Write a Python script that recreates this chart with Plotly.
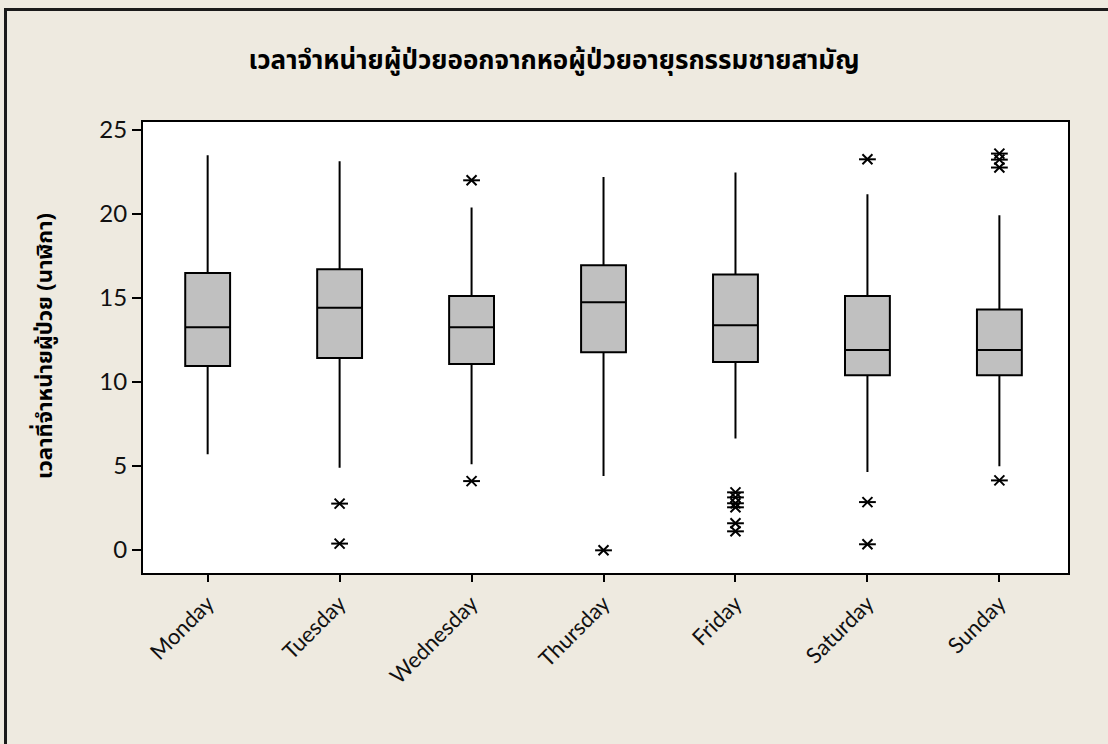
import plotly.graph_objects as go

# Discharge times (hour of day) by weekday: five-number summaries and outliers
days = ["Monday", "Tuesday", "Wednesday", "Thursday", "Friday", "Saturday", "Sunday"]
lower_whisker = [5.67, 4.88, 5.08, 4.38, 6.61, 4.62, 4.96]
q1_vals = [10.93, 11.41, 11.05, 11.74, 11.17, 10.38, 10.38]
median_vals = [13.23, 14.40, 13.23, 14.72, 13.35, 11.88, 11.88]
q3_vals = [16.46, 16.68, 15.10, 16.92, 16.37, 15.10, 14.29]
upper_whisker = [23.47, 23.11, 20.36, 22.18, 22.44, 21.15, 19.90]

outlier_days = ["Tuesday", "Tuesday",
                "Wednesday", "Wednesday",
                "Thursday",
                "Friday", "Friday", "Friday", "Friday", "Friday", "Friday",
                "Saturday", "Saturday", "Saturday",
                "Sunday", "Sunday", "Sunday", "Sunday"]
outlier_vals = [2.74, 0.36,
                21.98, 4.08,
                -0.04,
                3.41, 3.11, 2.76, 2.52, 1.57, 1.09,
                23.23, 2.83, 0.32,
                23.57, 23.21, 22.74, 4.12]

title_text = "เวลาจำหน่ายผู้ป่วยออกจากหอผู้ป่วยอายุรกรรมชายสามัญ"
y_title_text = "เวลาที่จำหน่ายผู้ป่วย (นาฬิกา)"
y_ticks = [0, 5, 10, 15, 20, 25]

BG = "#EEEAE0"
TICK_FONT = "Lato, 'Open Sans', sans-serif"
THAI_FONT = "'Noto Sans Thai', 'Noto Sans', sans-serif"

fig = go.Figure()

fig.add_trace(go.Box(
    x=days,
    q1=q1_vals,
    median=median_vals,
    q3=q3_vals,
    lowerfence=lower_whisker,
    upperfence=upper_whisker,
    boxpoints=False,
    width=0.34,
    whiskerwidth=0,
    fillcolor="#C0C0C0",
    line=dict(color="black", width=2),
    showlegend=False,
))

# Outlier asterisks: an X with a horizontal bar through it
fig.add_trace(go.Scatter(
    x=outlier_days, y=outlier_vals, mode="markers",
    marker=dict(symbol="x-thin-open", size=10, color="black",
                line=dict(color="black", width=2)),
    showlegend=False, hoverinfo="skip",
))
fig.add_trace(go.Scatter(
    x=outlier_days, y=outlier_vals, mode="markers",
    marker=dict(symbol="line-ew-open", size=12, color="black",
                line=dict(color="black", width=2)),
    showlegend=False, hoverinfo="y",
))

L, R, T, B = 143, 40, 122, 171
W, H = 1108, 744
pw, ph = W - L - R, H - T - B


def px_x(p):
    return (p - L) / pw


def px_y(p):
    return (H - B - p) / ph


fig.update_layout(
    width=W, height=H,
    margin=dict(l=L, r=R, t=T, b=B),
    paper_bgcolor=BG,
    plot_bgcolor="white",
    title=dict(text="<b>" + title_text + "</b>", x=0.5, xanchor="center",
               y=1 - 60 / H, yanchor="middle",
               font=dict(family=THAI_FONT, size=26, color="black")),
    xaxis=dict(
        categoryorder="array", categoryarray=days,
        range=[-0.49, 6.52],
        showline=True, linewidth=2, linecolor="black", mirror=True,
        ticks="outside", ticklen=7, tickwidth=2, tickcolor="black",
        tickangle=-45,
        tickfont=dict(family=TICK_FONT, size=22, color="#111"),
        showgrid=False, zeroline=False,
    ),
    yaxis=dict(
        range=[-1.39, 25.45],
        tickvals=y_ticks,
        showline=True, linewidth=2, linecolor="black", mirror=True,
        ticks="outside", ticklen=9, tickwidth=2, tickcolor="black",
        tickfont=dict(family=TICK_FONT, size=24, color="#111"),
        showgrid=False, zeroline=False,
    ),
    annotations=[dict(
        text="<b>" + y_title_text + "</b>",
        xref="paper", yref="paper",
        x=px_x(45), y=px_y(346),
        xanchor="center", yanchor="middle",
        textangle=-90, showarrow=False,
        font=dict(family=THAI_FONT, size=22, color="black"),
    )],
    shapes=[dict(
        type="rect", xref="paper", yref="paper",
        x0=px_x(5.5), x1=px_x(W + 50),
        y0=px_y(H + 50), y1=px_y(9.5),
        line=dict(color="#1a1a1a", width=3),
        fillcolor="rgba(0,0,0,0)", layer="below",
    )],
)

fig.write_html("out.html")
